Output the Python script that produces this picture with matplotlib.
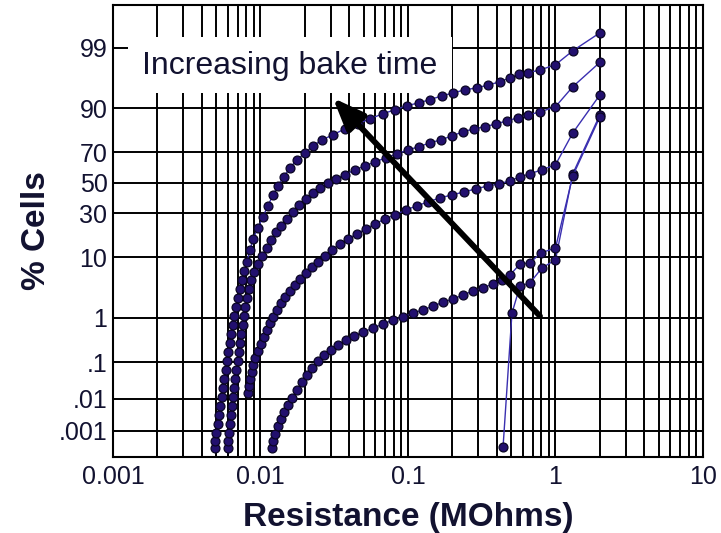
import math
import numpy as np
import matplotlib
matplotlib.use('Agg')
import matplotlib.pyplot as plt
from matplotlib.patches import Rectangle, FancyArrowPatch
from matplotlib.ticker import FixedLocator, LogLocator, NullLocator, NullFormatter

plt.rcParams['font.family'] = ['Liberation Sans', 'DejaVu Sans']

# resistance in MOhms and cumulative % of cells, one pair per bake time
res_1 = [0.00492, 0.00492, 0.00499, 0.00515, 0.00523, 0.00531, 0.00548, 0.00557, 0.00566, 0.00584,
         0.00593, 0.00602, 0.00621, 0.00631, 0.00651, 0.00661, 0.00682, 0.00704, 0.00726, 0.00749,
         0.00773, 0.00810, 0.00849, 0.00890, 0.00962, 0.0104, 0.0112, 0.0122, 0.0131, 0.0144,
         0.0158, 0.0177, 0.0200, 0.0227, 0.0261, 0.0310, 0.0374, 0.0458, 0.0553, 0.0677,
         0.0817, 0.0985, 0.119, 0.141, 0.170, 0.202, 0.243, 0.294, 0.349, 0.420,
         0.492, 0.566, 0.651, 0.785, 1.0, 1.31, 2.0]
cells_1 = [0.000244, 0.000433, 0.000816, 0.00162, 0.00317, 0.0060, 0.0112, 0.0205, 0.0364, 0.063,
           0.107, 0.179, 0.290, 0.462, 0.718, 1.09, 1.63, 2.37, 3.38, 4.73,
           6.46, 8.69, 12.4, 16.7, 21.9, 27.9, 34.6, 41.8, 47.9, 54.1,
           60.2, 65.4, 69.7, 73.8, 77.0, 79.6, 82.4, 84.5, 86.5, 88.3,
           89.6, 90.8, 91.6, 92.4, 93.3, 93.9, 94.55, 94.9, 95.4, 95.9,
           96.5, 96.9, 97.1, 97.4, 97.9, 98.85, 99.51]

res_2 = [0.00602, 0.00602, 0.00612, 0.00621, 0.00631, 0.00641, 0.00651, 0.00661, 0.00672, 0.00682,
         0.00704, 0.00715, 0.00726, 0.00738, 0.00761, 0.00773, 0.00785, 0.00810, 0.00836, 0.00862,
         0.00904, 0.00962, 0.0102, 0.0111, 0.0118, 0.0127, 0.0138, 0.0151, 0.0166, 0.0182,
         0.0203, 0.0227, 0.0253, 0.0287, 0.0325, 0.0374, 0.0437, 0.0511, 0.0598, 0.0709,
         0.0842, 0.100, 0.119, 0.141, 0.167, 0.199, 0.236, 0.280, 0.333, 0.395,
         0.469, 0.557, 0.651, 0.785, 1.0, 1.31, 2.0]
cells_2 = [0.000244, 0.000433, 0.000816, 0.00162, 0.00317, 0.0060, 0.0112, 0.0205, 0.0364, 0.063,
           0.107, 0.179, 0.290, 0.462, 0.718, 1.09, 1.63, 2.37, 3.38, 4.73,
           6.27, 8.13, 10.4, 13.1, 16.3, 19.9, 23.0, 26.7, 30.85, 35.3,
           39.1, 43.2, 46.6, 50.0, 52.8, 55.5, 58.9, 61.5, 64.1, 66.7,
           69.15, 71.5, 73.3, 75.5, 77.0, 79.1, 81.0, 82.4, 83.3, 84.5,
           85.7, 86.9, 87.9, 88.9, 90.5, 95.1, 98.1]

res_3 = [0.00823, 0.00836, 0.00849, 0.00876, 0.00890, 0.00918, 0.00962, 0.0101, 0.0106, 0.0111,
         0.0116, 0.0122, 0.0129, 0.0138, 0.0147, 0.0158, 0.0171, 0.0185, 0.0203, 0.0224,
         0.0245, 0.0274, 0.0305, 0.0346, 0.0392, 0.0451, 0.0519, 0.0598, 0.0698, 0.0817,
         0.0969, 0.115, 0.137, 0.165, 0.199, 0.240, 0.289, 0.349, 0.414, 0.492,
         0.575, 0.671, 0.810, 1.0, 1.31, 2.0]
cells_3 = [0.0147, 0.0233, 0.0364, 0.0558, 0.085, 0.128, 0.189, 0.275, 0.396, 0.563,
           0.79, 1.05, 1.43, 1.94, 2.47, 3.14, 3.95, 4.92, 6.06, 7.41,
           8.69, 10.4, 12.4, 14.7, 16.7, 19.0, 21.4, 24.0, 26.7, 29.1,
           32.1, 34.6, 37.2, 39.8, 41.8, 43.8, 45.9, 47.9, 49.3, 51.4,
           54.1, 56.2, 58.9, 62.2, 80.5, 93.5]

res_4 = [0.0120, 0.0122, 0.0125, 0.0131, 0.0138, 0.0144, 0.0154, 0.0164, 0.0177, 0.0191,
         0.0207, 0.0224, 0.0245, 0.0270, 0.0301, 0.0335, 0.0380, 0.0430, 0.0495, 0.0579,
         0.0677, 0.0791, 0.0925, 0.108, 0.126, 0.148, 0.173, 0.202, 0.236, 0.276,
         0.322, 0.377, 0.434, 0.492, 0.575, 0.671, 0.797, 1.0, 1.31, 2.0]
cells_4 = [0.000244, 0.000433, 0.00075, 0.00139, 0.00236, 0.00394, 0.0064, 0.0105, 0.0179, 0.030,
           0.0466, 0.071, 0.107, 0.151, 0.200, 0.258, 0.340, 0.416, 0.509, 0.621,
           0.752, 0.908, 1.05, 1.25, 1.43, 1.69, 2.00, 2.28, 2.67, 3.14,
           3.52, 4.10, 4.73, 5.64, 8.13, 8.42, 11.4, 13.1, 54.8, 87.2]

res_5 = [0.441, 0.507, 0.575, 0.671, 0.810, 1.0, 1.31, 2.0]
cells_5 = [0.000265, 1.25, 3.79, 4.24, 7.16, 9.23, 56.2, 87.9]

y_ticks = [0.001, 0.01, 0.1, 1, 10, 30, 50, 70, 90, 99]
y_tick_labels = ['.001', '.01', '.1', '1', '10', '30', '50', '70', '90', '99']
x_ticks = [0.001, 0.01, 0.1, 1, 10]
x_tick_labels = ['0.001', '0.01', '0.1', '1', '10']

# arrow from tail to head, in (MOhms, %)
arrow_tail = (0.785, 1.09)
arrow_head = (0.031, 92.8)

# Acklam's rational approximation of the inverse normal CDF
A = [-3.969683028665376e+01, 2.209460984245205e+02, -2.759285104469687e+02,
     1.383577518672690e+02, -3.066479806614716e+01, 2.506628277459239e+00]
B = [-5.447609879822406e+01, 1.615858368580409e+02, -1.556989798598866e+02,
     6.680131188771972e+01, -1.328068155288572e+01]
C = [-7.784894002430293e-03, -3.223964580411365e-01, -2.400758277161838e+00,
     -2.549732539343734e+00, 4.374664141464968e+00, 2.938163982698783e+00]
D = [7.784695709041462e-03, 3.224671290700398e-01, 2.445134137142996e+00,
     3.754408661907416e+00]


def norm_ppf(p):
    p = np.clip(np.asarray(p, dtype=float), 1e-15, 1 - 1e-15)
    plow = 0.02425
    q = p - 0.5
    r = q * q
    central = (((((A[0]*r + A[1])*r + A[2])*r + A[3])*r + A[4])*r + A[5]) * q / \
              (((((B[0]*r + B[1])*r + B[2])*r + B[3])*r + B[4])*r + 1)
    t = np.sqrt(-2 * np.log(np.minimum(p, 1 - p)))
    tail = (((((C[0]*t + C[1])*t + C[2])*t + C[3])*t + C[4])*t + C[5]) / \
           ((((D[0]*t + D[1])*t + D[2])*t + D[3])*t + 1)
    out = np.where(p < plow, tail, central)
    out = np.where(p > 1 - plow, -tail, out)
    return out


_erfc = np.vectorize(math.erfc)


def pct_to_z(pct):
    return norm_ppf(np.asarray(pct, dtype=float) / 100.0)


def z_to_pct(z):
    return 50.0 * _erfc(-np.asarray(z, dtype=float) / math.sqrt(2))


fig = plt.figure(figsize=(7.21, 5.33), dpi=100)
ax = fig.add_axes([0.1567, 0.1426, 0.8183, 0.848])

ax.set_xscale('log')
ax.set_yscale('function', functions=(pct_to_z, z_to_pct))
ax.set_xlim(0.001, 10)
ax.set_ylim(0.000118, 99.89)

ax.xaxis.set_major_locator(FixedLocator(x_ticks))
ax.set_xticklabels(x_tick_labels)
ax.xaxis.set_minor_locator(LogLocator(base=10, subs=np.arange(2, 10)))
ax.xaxis.set_minor_formatter(NullFormatter())
ax.yaxis.set_major_locator(FixedLocator(y_ticks))
ax.set_yticklabels(y_tick_labels)
ax.yaxis.set_minor_locator(NullLocator())

ax.set_axisbelow(True)
ax.grid(True, which='both', axis='x', color='black', lw=1.4)
ax.grid(True, which='major', axis='y', color='black', lw=1.4)
for sp in ax.spines.values():
    sp.set_linewidth(1.5)

text_col = '#121230'
ax.tick_params(axis='both', which='both', length=0, labelsize=18, colors=text_col)
ax.tick_params(axis='y', pad=4)
ax.tick_params(axis='x', pad=6)

# white panel behind the annotation text
ax.add_patch(Rectangle((0.025, 0.805), 0.549, 0.124, transform=ax.transAxes,
                       facecolor='white', edgecolor='none', zorder=2))
ax.text(0.30, 0.866, 'Increasing bake time', transform=ax.transAxes,
        ha='center', va='center', fontsize=23, color=text_col, zorder=5)

series = [(res_5, cells_5), (res_4, cells_4), (res_3, cells_3), (res_2, cells_2), (res_1, cells_1)]
for res, cells in series:
    ax.plot(res, cells, '-o', color='#3a2fb0', lw=1.0, ms=6.4,
            mfc='#22106e', mec='#0a0524', mew=0.9, zorder=3)

ax.add_patch(FancyArrowPatch(arrow_tail, arrow_head,
                             arrowstyle='-|>,head_length=0.8,head_width=0.32',
                             mutation_scale=24, lw=4.2, color='black',
                             shrinkA=0, shrinkB=0, zorder=4))

ax.set_xlabel('Resistance (MOhms)', fontsize=24, fontweight='bold', color=text_col, va='center')
ax.xaxis.set_label_coords(0.5, -0.133)
ax.set_ylabel('% Cells', fontsize=24, fontweight='bold', color=text_col, va='center')
ax.yaxis.set_label_coords(-0.13, 0.5)

fig.savefig('out.png', dpi=100)
